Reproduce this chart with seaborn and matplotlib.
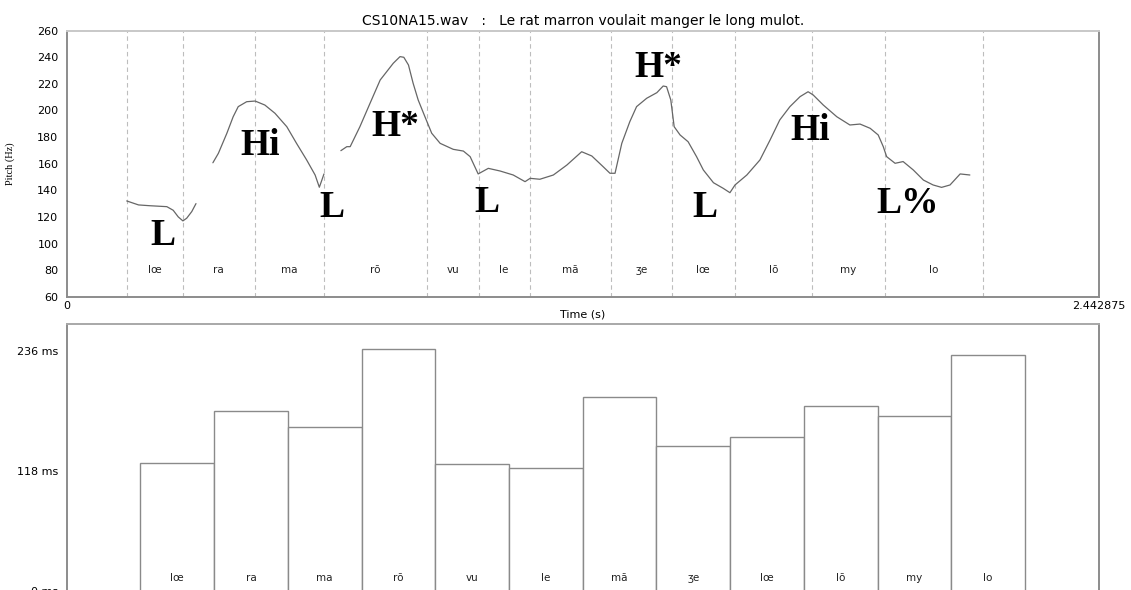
import numpy as np
import pandas as pd
import seaborn as sns
import matplotlib
matplotlib.use('Agg')
import matplotlib.pyplot as plt

sns.set_theme(style='white')
plt.rcParams['font.family'] = ['DejaVu Sans']
plt.rcParams['text.color'] = 'black'
plt.rcParams['axes.labelcolor'] = 'black'
plt.rcParams['xtick.labelcolor'] = 'black'
plt.rcParams['ytick.labelcolor'] = 'black'

# syllables of "Le rat marron voulait manger le long mulot."
syllables = ['lœ', 'ra', 'ma', 'rõ', 'vu', 'le', 'mã', 'ʒe', 'lœ', 'lõ', 'my', 'lo']
# syllable boundaries (s)
boundaries = [0.142, 0.275, 0.445, 0.608, 0.852, 0.975, 1.096, 1.288, 1.432, 1.581, 1.764, 1.936, 2.168]
# syllable durations (ms)
durations = [126, 177, 161, 238, 125, 121, 191, 142, 151, 182, 172, 232]
total_dur = 2.442875

# pitch contour, 3 voiced stretches
t1 = [0.142, 0.170, 0.197, 0.237, 0.252, 0.264, 0.275, 0.284, 0.296, 0.306]
f1 = [132, 129, 128.4, 127.7, 125, 120, 117, 119, 124, 130]
t2 = [0.346, 0.359, 0.379, 0.394, 0.406, 0.426, 0.446, 0.469, 0.493, 0.521, 0.544, 0.568,
      0.588, 0.598, 0.604, 0.609]
f2 = [160.7, 167.8, 182.8, 195.3, 202.9, 206.6, 207.1, 204.1, 197.9, 187.8, 175.3, 162.8,
      151.5, 142.3, 147.7, 152.3]
t3 = [0.649, 0.663, 0.671, 0.694, 0.718, 0.742, 0.773, 0.789, 0.798, 0.809, 0.820, 0.832,
      0.848, 0.864, 0.884, 0.915, 0.939, 0.955, 0.974, 0.998, 1.026, 1.057, 1.085, 1.097,
      1.120, 1.152, 1.184, 1.219, 1.243, 1.270, 1.286, 1.298, 1.314, 1.333, 1.349, 1.373,
      1.397, 1.412, 1.420, 1.430, 1.438, 1.452, 1.471, 1.491, 1.507, 1.531, 1.554, 1.570,
      1.582, 1.610, 1.641, 1.665, 1.688, 1.712, 1.736, 1.755, 1.767, 1.791, 1.823, 1.854,
      1.878, 1.902, 1.921, 1.933, 1.941, 1.961, 1.980, 2.004, 2.028, 2.051, 2.071, 2.091,
      2.115, 2.138]
f3 = [169.8, 172.8, 172.8, 187.8, 205.4, 222.9, 235.5, 240.5, 240.0, 234.2, 220.5, 207.9,
      195.3, 182.9, 175.3, 170.8, 169.5, 165.3, 152.3, 156.5, 154.5, 151.5, 146.5, 149.0,
      148.3, 151.5, 159.0, 169.0, 165.8, 157.7, 152.8, 152.8, 175.3, 191.6, 202.9, 209.2,
      213.4, 218.4, 217.9, 207.9, 187.8, 181.6, 176.5, 165.3, 155.3, 145.7, 141.5, 138.2,
      144.0, 151.5, 162.8, 177.8, 192.9, 202.9, 210.4, 214.1, 211.7, 204.1, 195.3, 189.1,
      189.8, 186.6, 181.6, 172.8, 165.3, 160.3, 161.6, 155.3, 147.7, 144.0, 142.2, 144.0,
      152.3, 151.5]

# tone labels
tones = ['L', 'Hi', 'L', 'H*', 'L', 'H*', 'L', 'Hi', 'L%']
tone_t = [0.228, 0.458, 0.628, 0.777, 0.995, 1.400, 1.511, 1.759, 1.991]
tone_f = [106, 174, 127, 188, 131, 232, 127, 185, 130]

pitch = pd.DataFrame({
    'time': t1 + t2 + t3,
    'pitch': f1 + f2 + f3,
    'seg': [0] * len(t1) + [1] * len(t2) + [2] * len(t3),
})

fig = plt.figure(figsize=(11.31, 5.90), dpi=100)
ax1 = fig.add_axes([0.0590, 0.4971, 0.9124, 0.4509])
ax2 = fig.add_axes([0.0590, -0.0012, 0.9124, 0.4515])

spine_col = '#8c8c8c'
small = 8

# ---- pitch panel
for b in boundaries:
    ax1.axvline(b, color='#bdbdbd', lw=0.8, ls=(0, (4, 3)), zorder=1)
sns.lineplot(data=pitch, x='time', y='pitch', units='seg', estimator=None, sort=False,
             color='#666666', lw=0.9, ax=ax1, zorder=3)
mids = [(boundaries[i] + boundaries[i + 1]) / 2 for i in range(len(syllables))]
for m, s in zip(mids, syllables):
    ax1.text(m, 80, s, ha='center', va='center', fontsize=7.5, color='#222222')
for lab, tt, ff in zip(tones, tone_t, tone_f):
    ax1.text(tt, ff, lab, ha='center', va='center', fontsize=27, fontweight='bold',
             family=['Liberation Serif', 'DejaVu Serif'], color='black', zorder=4)

ax1.set_xlim(0, total_dur)
ax1.set_ylim(60, 260)
ax1.set_yticks(range(60, 261, 20))
ax1.set_xticks([0, total_dur])
ax1.set_xticklabels(['0', '2.442875'])
ax1.tick_params(axis='y', length=4, width=0.8, color=spine_col, labelsize=small, pad=2)
ax1.tick_params(axis='x', length=0, labelsize=small, pad=3)
ax1.set_xlabel('Time (s)', fontsize=small, labelpad=-1)
ax1.set_ylabel('Pitch (Hz)', fontsize=7.5, family=['Liberation Serif', 'DejaVu Serif'])
ax1.yaxis.set_label_coords(-0.050, 0.5)
ax1.set_title('CS10NA15.wav   :   Le rat marron voulait manger le long mulot.',
              fontsize=10, pad=4)
for sp in ax1.spines.values():
    sp.set_color(spine_col)
    sp.set_linewidth(1.4)
ax1.spines['top'].set_color('#c8c8c8')

# ---- duration panel
pos = np.arange(len(durations))
sns.barplot(x=pos, y=durations, width=1.0, color='white', edgecolor='#8a8a8a',
            linewidth=1.0, ax=ax2, zorder=2)
for p, s in zip(pos, syllables):
    ax2.text(p, 12.5, s, ha='center', va='center', fontsize=7.5, color='#222222', zorder=3)
ax2.set_xlim(-1.5, 12.5)
ax2.set_ylim(0, 262)
ax2.set_xticks([])
ax2.set_yticks([0, 118, 236])
ax2.set_yticklabels(['0 ms', '118 ms', '236 ms'])
ax2.tick_params(axis='y', length=4, width=0.8, color=spine_col, labelsize=small, pad=2)
ax2.set_xlabel('')
ax2.set_ylabel('')
for sp in ax2.spines.values():
    sp.set_color(spine_col)
    sp.set_linewidth(1.4)
ax2.spines['top'].set_color('#a8a8a8')
ax2.spines['bottom'].set_visible(False)

fig.savefig('out.png', dpi=100)
